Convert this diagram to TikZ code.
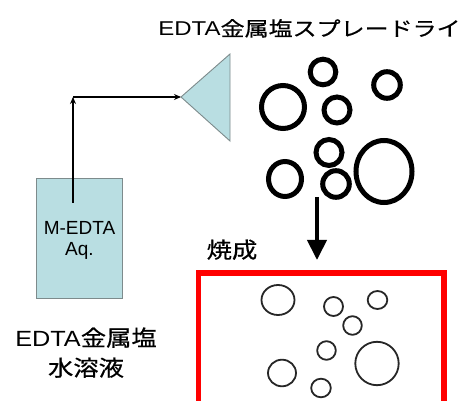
\documentclass[tikz,border=0pt]{standalone}
\usepackage{graphicx}
\usepackage{fontspec}
\setmainfont{Liberation Sans}
\newfontfamily\jp[FakeBold=0.5]{Noto Sans CJK JP}
\usetikzlibrary{arrows.meta}
\definecolor{aqua}{HTML}{B9DEE2}
\definecolor{edge}{HTML}{7D8B8C}
\tikzset{
  txt/.style={inner sep=0pt, anchor=base, text=black},
  bub/.style={draw=black, line width=5pt},
  pore/.style={draw=black!85, line width=1.8pt},
  tank/.style={draw=edge, line width=0.9pt, fill=aqua},
  feed/.style={draw=black, line width=2.4pt, -{Stealth[length=7pt,width=6pt]}},
  down/.style={draw=black, line width=4pt, -{Triangle[length=20pt,width=19pt]}},
  furnace/.style={draw=red, line width=5.5pt},
}
\begin{document}
\begin{tikzpicture}[x=1pt,y=-1pt]
\clip (0,0) rectangle (464,401);
\fill[white] (0,0) rectangle (464,401);

% title
\node[txt] (title) at (309.5,36) {\fontsize{20pt}{24pt}\selectfont\scalebox{1.2}[1]{EDTA{\jp 金属塩スプレードライ}}};

% solution tank
\node[tank, minimum width=86pt, minimum height=120pt, inner sep=0pt] (box) at (79,238) {};
\node[txt] (m) at (79.5,234.5) {\fontsize{19pt}{22pt}\selectfont M-EDTA};
\node[txt] (aq) at (79.5,256) {\fontsize{19pt}{22pt}\selectfont Aq.};

% nozzle (triangle)
\draw[tank] (230,54) -- (230,141) -- (181,97) -- cycle;
\coordinate (apex) at (181,97);
\coordinate (feedstart) at (73,203);
\coordinate (corner) at (73,97);
\draw[feed] (feedstart) -- (corner);
\draw[feed] (corner) -- (apex);

% spray droplets
\draw[bub] (283,107) circle (21.5pt);
\draw[bub] (323,72) circle (12.8pt);
\draw[bub] (337,110) circle (13pt);
\draw[bub] (387,85) circle (13.3pt);
\draw[bub] (329,152.5) circle (13pt);
\draw[bub] (336,184) circle (13.3pt);
\draw[bub] (285,179) ellipse [x radius=16.5pt, y radius=17.5pt];
\draw[bub] (384,171.5) ellipse [x radius=28pt, y radius=31pt];

% arrow to furnace
\coordinate (dtop) at (317,197);
\coordinate (dend) at (317,260);
\draw[down] (dtop) -- (dend);
\node[txt] (sinter) at (232,258) {\fontsize{22pt}{26pt}\selectfont\scalebox{1.15}[1]{\jp 焼成}};

% furnace box
\draw[furnace] (198.5,273) rectangle (444,420);

% pores
\draw[pore] (278,300) ellipse [x radius=16.5pt, y radius=15pt];
\draw[pore] (333.5,306.5) circle (9.5pt);
\draw[pore] (377.5,300) ellipse [x radius=9.8pt, y radius=9pt];
\draw[pore] (352.5,325.5) circle (9.3pt);
\draw[pore] (326.5,350.5) circle (9.3pt);
\draw[pore] (377,363.5) circle (21.7pt);
\draw[pore] (282,373) ellipse [x radius=14pt, y radius=13.3pt];
\draw[pore] (321,388) ellipse [x radius=9.8pt, y radius=9.3pt];

% caption
\node[txt] (sol1) at (86,346) {\fontsize{22pt}{26pt}\selectfont\scalebox{1.15}[1]{EDTA{\jp 金属塩}}};
\node[txt] (sol2) at (86,376) {\fontsize{22pt}{26pt}\selectfont\scalebox{1.15}[1]{\jp 水溶液}};
\end{tikzpicture}
\end{document}
